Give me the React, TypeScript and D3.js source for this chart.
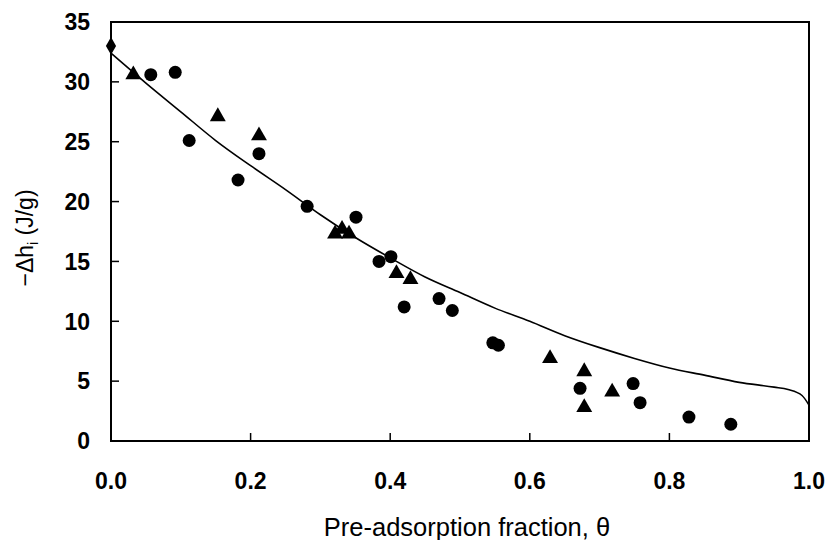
import * as d3 from 'd3'

// single diamond at theta = 0
const diamondX = [0]
const diamondY = [33.0]

const triangleX = [0.032, 0.153, 0.212, 0.321, 0.331, 0.341, 0.409, 0.429, 0.629, 0.678, 0.678, 0.718]
const triangleY = [30.6, 27.1, 25.5, 17.3, 17.7, 17.3, 14.0, 13.5, 6.9, 5.8, 2.8, 4.1]

const circleX = [0.057, 0.092, 0.112, 0.182, 0.212, 0.281, 0.351, 0.384, 0.401, 0.420, 0.470, 0.489, 0.547, 0.555, 0.672, 0.748, 0.758, 0.828, 0.888]
const circleY = [30.6, 30.8, 25.1, 21.8, 24.0, 19.6, 18.7, 15.0, 15.4, 11.2, 11.9, 10.9, 8.2, 8.0, 4.4, 4.8, 3.2, 2.0, 1.4]

// fitted model curve
const curveX = [0, 0.05, 0.1, 0.15, 0.2, 0.25, 0.3, 0.35, 0.4, 0.45, 0.5, 0.55, 0.6, 0.65, 0.7, 0.75, 0.8, 0.85, 0.9, 0.95, 0.97, 0.99, 1.0]
const curveY = [32.4, 29.9, 27.5, 25.1, 23.0, 21.0, 18.9, 17.0, 15.3, 13.7, 12.4, 11.1, 10.0, 8.8, 7.8, 6.9, 6.1, 5.5, 4.9, 4.5, 4.3, 3.8, 3.0]

const xTicks = [0, 0.2, 0.4, 0.6, 0.8, 1.0]
const yTicks = [0, 5, 10, 15, 20, 25, 30, 35]

const W = 828
const H = 540
const M = { TOP: 22, RIGHT: 19, BOTTOM: 99, LEFT: 111 }

export default function App() {
  const x = d3.scaleLinear().domain([0, 1]).range([M.LEFT, W - M.RIGHT])
  const y = d3.scaleLinear().domain([0, 35]).range([H - M.BOTTOM, M.TOP])

  const line = d3.line<number>()
    .x((d, i) => x(curveX[i]))
    .y(d => y(d))
    .curve(d3.curveMonotoneX)

  const tri = d3.symbol().type(d3.symbolTriangle).size(110)()
  const dia = d3.symbol().type(d3.symbolDiamond).size(90)()

  const font = 'Arial, "Liberation Sans", sans-serif'

  return (
    <svg width={W} height={H} style={{ position: 'absolute', left: 0, top: 0, background: '#fff' }}>
      <rect x={M.LEFT} y={M.TOP} width={x(1) - x(0)} height={y(0) - y(35)}
        fill="none" stroke="#000" strokeWidth={2} />

      {xTicks.map(t => (
        <g key={'x' + t}>
          <line x1={x(t)} x2={x(t)} y1={y(0)} y2={y(0) - 8} stroke="#000" strokeWidth={1.5} />
          <text x={x(t)} y={489} textAnchor="middle" fontFamily={font} fontWeight="bold" fontSize={23}>
            {t.toFixed(1)}
          </text>
        </g>
      ))}

      {yTicks.map(t => (
        <g key={'y' + t}>
          <line x1={x(0)} x2={x(0) + 8} y1={y(t)} y2={y(t)} stroke="#000" strokeWidth={1.5} />
          <text x={90} y={y(t)} dy="0.36em" textAnchor="end" fontFamily={font} fontWeight="bold" fontSize={23}>
            {t}
          </text>
        </g>
      ))}

      <path d={line(curveY) || ''} fill="none" stroke="#000" strokeWidth={1.6} />

      {circleX.map((cx, i) => (
        <circle key={'c' + i} cx={x(cx)} cy={y(circleY[i])} r={6.5} fill="#000" />
      ))}
      {triangleX.map((tx, i) => (
        <path key={'t' + i} d={tri || ''} transform={`translate(${x(tx)},${y(triangleY[i])})`} fill="#000" />
      ))}
      {diamondX.map((dx, i) => (
        <path key={'d' + i} d={dia || ''} transform={`translate(${x(dx)},${y(diamondY[i])})`} fill="#000" />
      ))}

      <text x={467} y={536} textAnchor="middle" fontFamily={font} fontSize={25.5}>
        Pre-adsorption fraction, θ
      </text>

      <text transform={`translate(33,238) rotate(-90)`} textAnchor="middle" fontFamily={font} fontSize={23}>
        −Δh<tspan fontSize={14} dy={5}>i</tspan><tspan dy={-5}> (J/g)</tspan>
      </text>
    </svg>
  )
}
